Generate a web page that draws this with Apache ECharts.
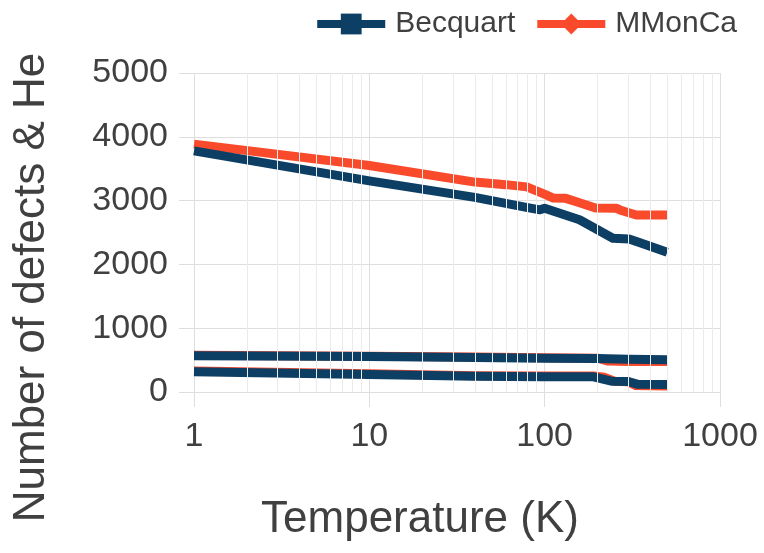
<!DOCTYPE html>
<html>
<head>
<meta charset="utf-8">
<script src="https://cdn.jsdelivr.net/npm/echarts@6/dist/echarts.min.js"></script>
<style>
  html, body { margin: 0; padding: 0; background: #fff; }
  #chart { width: 764px; height: 553px; }
</style>
</head>
<body>
<div id="chart"></div>
<script>
// --- data ---
const becquartTopT = [1, 10, 40, 80, 94, 100, 158, 245, 303, 350, 500];
const becquartTopV = [3780, 3310, 3050, 2890, 2855, 2880, 2700, 2410, 2400, 2340, 2190];
const becquartMidT = [1, 10, 40, 100, 200, 300, 500];
const becquartMidV = [569, 555, 540, 530, 525, 515, 505];
const becquartLowT = [1, 10, 40, 100, 190, 240, 300, 340, 500];
const becquartLowV = [318, 275, 245, 240, 238, 170, 165, 120, 118];

const mmoncaTopT = [1, 10, 40, 60, 79, 102, 112, 132, 158, 195, 256, 277, 333, 500];
const mmoncaTopV = [3885, 3550, 3290, 3250, 3215, 3090, 3040, 3035, 2965, 2885, 2880, 2840, 2775, 2775];
const mmoncaMidT = [1, 10, 40, 100, 200, 230, 300, 500];
const mmoncaMidV = [576, 562, 547, 537, 530, 485, 480, 478];
const mmoncaLowT = [1, 10, 40, 100, 190, 220, 250, 300, 330, 500];
const mmoncaLowV = [328, 285, 255, 250, 250, 230, 170, 160, 100, 95];

const minorT = [2, 3, 4, 5, 6, 7, 8, 9, 20, 30, 40, 50, 60, 70, 80, 90, 200, 300, 400, 500, 600, 700, 800, 900];

const BLUE = '#0d3e64';
const RED = '#fa4a2c';
const TEXT = '#404040';
const GRID = '#dedede';

const zip = (xs, ys) => xs.map((x, i) => [x, ys[i]]);

const chart = echarts.init(document.getElementById('chart'));

const lineSeries = (name, color, symbol, xs, ys) => ({
  name: name,
  type: 'line',
  data: zip(xs, ys),
  symbol: symbol,
  symbolSize: 18,
  showSymbol: false,
  smooth: false,
  itemStyle: { color: color },
  lineStyle: { color: color, width: 9, cap: 'butt', join: 'round' },
  emphasis: { disabled: true },
  z: 3
});

chart.setOption({
  animation: false,
  textStyle: { fontFamily: 'Liberation Sans, Arial, sans-serif' },
  grid: { left: 194, right: 44, top: 73, bottom: 161 },
  legend: {
    data: ['Becquart', 'MMonCa'],
    right: 22,
    top: 4,
    itemWidth: 68,
    itemHeight: 26,
    itemGap: 18,
    lineStyle: { width: 8 },
    textStyle: { fontSize: 30, color: TEXT, padding: [0, 0, 0, 5] }
  },
  xAxis: {
    type: 'log',
    logBase: 10,
    min: 1,
    max: 1000,
    name: 'Temperature (K)',
    nameLocation: 'middle',
    nameGap: 106,
    nameTextStyle: { fontSize: 44, color: TEXT, padding: [0, 74, 0, 0] },
    axisLine: { show: true, lineStyle: { color: GRID, width: 1 } },
    axisTick: { show: true, length: 15, lineStyle: { color: GRID } },
    axisLabel: { fontSize: 34, color: TEXT, margin: 28, formatter: v => String(v) },
    splitLine: { show: true, lineStyle: { color: GRID, width: 1 } }
  },
  yAxis: {
    type: 'value',
    min: 0,
    max: 5000,
    interval: 1000,
    name: 'Number of defects & He',
    nameLocation: 'middle',
    nameGap: 140,
    nameTextStyle: { fontSize: 44, color: TEXT, padding: [0, 110, 0, 0] },
    axisLine: { show: false },
    axisTick: { show: true, length: 15, lineStyle: { color: GRID } },
    axisLabel: { fontSize: 34, color: TEXT, margin: 26, formatter: v => String(v) },
    splitLine: { show: true, lineStyle: { color: GRID, width: 1 } }
  },
  series: [
    {
      // minor log grid lines
      type: 'line',
      data: [],
      silent: true,
      z: 1,
      markLine: {
        silent: true,
        symbol: 'none',
        animation: false,
        label: { show: false },
        lineStyle: { color: '#ebebeb', width: 1, type: 'solid' },
        data: minorT.map(t => ({ xAxis: t }))
      }
    },
    lineSeries('MMonCa', RED, 'diamond', mmoncaTopT, mmoncaTopV),
    lineSeries('MMonCa', RED, 'diamond', mmoncaMidT, mmoncaMidV),
    lineSeries('MMonCa', RED, 'diamond', mmoncaLowT, mmoncaLowV),
    lineSeries('Becquart', BLUE, 'rect', becquartTopT, becquartTopV),
    lineSeries('Becquart', BLUE, 'rect', becquartMidT, becquartMidV),
    lineSeries('Becquart', BLUE, 'rect', becquartLowT, becquartLowV)
  ]
});
</script>
</body>
</html>
